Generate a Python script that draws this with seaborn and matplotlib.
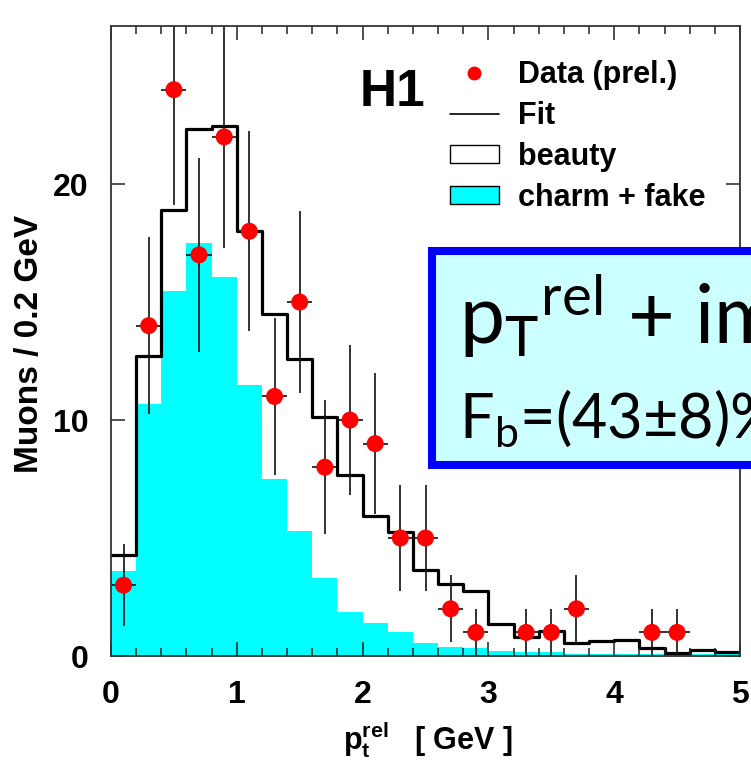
import numpy as np
import pandas as pd
import matplotlib
matplotlib.use("Agg")
import matplotlib.pyplot as plt
from matplotlib.lines import Line2D
from matplotlib.patches import Patch, Rectangle
from matplotlib.ticker import MultipleLocator
import seaborn as sns

# ---- data: muon p_t^rel spectrum, 0.2 GeV bins from 0 to 5 GeV ----
bin_centers = np.round(np.arange(0.1, 5.0, 0.2), 2)

fit_total = [4.3, 12.7, 18.9, 22.35, 22.45, 18.0, 14.5, 12.6, 10.15, 7.65,
             5.95, 5.25, 3.65, 3.05, 2.77, 1.36, 0.82, 1.08, 0.55, 0.62,
             0.69, 0.33, 0.14, 0.24, 0.15]
charm_fake = [3.6, 10.7, 15.45, 17.5, 16.05, 11.5, 7.5, 5.3, 3.3, 1.88,
              1.4, 1.0, 0.54, 0.39, 0.32, 0.2, 0.16, 0.18, 0.1, 0.08,
              0.08, 0.08, 0.08, 0.08, 0.08]
data_counts = [3, 14, 24, 17, 22, 18, 11, 15, 8, 10,
               9, 5, 5, 2, 1, 0, 1, 1, 2, 0,
               0, 1, 1, 0, 0]

x_ticks = [0, 1, 2, 3, 4, 5]
y_ticks = [0, 10, 20]

df = pd.DataFrame({"pt": bin_centers, "fit": fit_total, "charm": charm_fake,
                   "n": data_counts})
pts = df[df["n"] > 0]

sns.set_theme(style="ticks")
plt.rcParams["font.family"] = ["Liberation Sans", "DejaVu Sans"]
plt.rcParams["mathtext.default"] = "regular"
for key in ("text.color", "axes.labelcolor", "xtick.labelcolor",
            "ytick.labelcolor"):
    plt.rcParams[key] = "black"

fig = plt.figure(figsize=(7.51, 7.63), dpi=100)
W, H = 751.0, 763.0
ax = fig.add_axes([111 / W, 1 - 656 / H, 629 / W, 630 / H])

CYAN = "#00ffff"
RED = "#ff0000"

# charm + fake component (filled)
sns.histplot(data=df, x="pt", weights="charm", binwidth=0.2, binrange=(0, 5),
             element="step", fill=True, color=CYAN, alpha=1.0, linewidth=0,
             ax=ax, zorder=1)
# total fit (beauty stacked on top) as outline
sns.histplot(data=df, x="pt", weights="fit", binwidth=0.2, binrange=(0, 5),
             element="step", fill=False, color="black", linewidth=2.3,
             ax=ax, zorder=2)

# data with Poisson errors
ax.errorbar(pts["pt"], pts["n"], xerr=0.1, yerr=np.sqrt(pts["n"]),
            fmt="none", ecolor="#111111", elinewidth=1.2, capsize=0, zorder=3)
sns.scatterplot(data=pts, x="pt", y="n", color=RED, s=150, edgecolor="none",
                ax=ax, zorder=4)

ax.set_xlim(0, 5)
ax.set_ylim(0, 26.7)
ax.set_xticks(x_ticks)
ax.set_yticks(y_ticks)
ax.xaxis.set_minor_locator(MultipleLocator(0.2))
ax.tick_params(which="both", direction="in", top=True, right=True,
               width=1.1, color="#222222")
ax.tick_params(which="major", length=10, labelsize=23)
ax.tick_params(axis="x", which="major", pad=17)
ax.tick_params(axis="y", which="major", pad=16)
ax.tick_params(which="minor", length=5.8)
for lbl in ax.get_xticklabels() + ax.get_yticklabels():
    lbl.set_fontweight("bold")
for sp in ax.spines.values():
    sp.set_linewidth(1.3)
    sp.set_color("#333333")
    sp.set_zorder(5)
ax.set_axisbelow(False)

ax.set_xlabel(r"p$_t^{rel}$   [ GeV ]", fontsize=22, fontweight="bold")
ax.set_ylabel("Muons / 0.2 GeV", fontsize=24, fontweight="bold")
ax.xaxis.set_label_coords(0.504, -0.1)
ax.yaxis.set_label_coords(-0.105, 0.495)

# experiment tag
fig.text(360 / W, 1 - 106 / H, "H1", fontsize=37, fontweight="bold",
         va="baseline", ha="left")

# legend
handles = [
    Line2D([], [], marker="o", color=RED, linestyle="none", markersize=9),
    Line2D([], [], color="black", linewidth=1.2),
    Patch(facecolor="white", edgecolor="black", linewidth=1.0),
    Patch(facecolor=CYAN, edgecolor="black", linewidth=1.0),
]
labels = ["Data (prel.)", "Fit", "beauty", "charm + fake"]
leg = ax.legend(handles, labels, loc="upper left",
                bbox_to_anchor=(450 / W, 1 - 60 / H),
                bbox_transform=fig.transFigure, frameon=False,
                prop={"weight": "bold", "size": 22},
                handlelength=1.6, handleheight=0.55, handletextpad=0.62,
                labelspacing=0.36, borderpad=0, borderaxespad=0)

# result box
box = Rectangle((432 / W, 1 - 465 / H), 0.6, (465 - 251) / H,
                transform=fig.transFigure, facecolor="#ccffff",
                edgecolor="#0000ff", linewidth=5.8, zorder=10,
                clip_on=False)
fig.add_artist(box)
fig.text(459 / W, 1 - 344 / H, r"p$_T{}^{rel}$ + im",
         fontsize=58, family=["Lato", "DejaVu Sans"], va="baseline",
         ha="left", zorder=11)
fig.text(459 / W, 1 - 438 / H, r"F$_b$=(43$\pm$8)%",
         fontsize=44, family=["Lato", "DejaVu Sans"], va="baseline",
         ha="left", zorder=11)

fig.savefig("out.png", dpi=100)
